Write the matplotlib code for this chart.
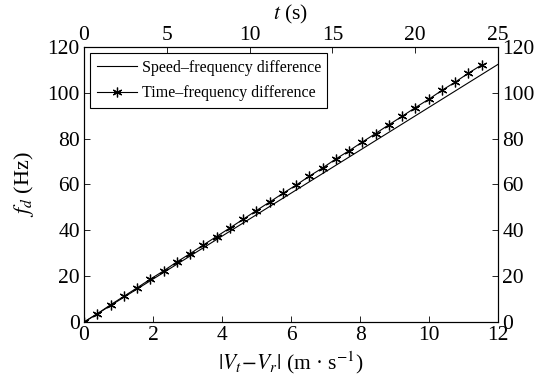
import matplotlib
matplotlib.use("Agg")
import matplotlib.pyplot as plt
import numpy as np

plt.rcParams['font.family'] = ['Liberation Serif', 'DejaVu Serif']
plt.rcParams['mathtext.fontset'] = 'stix'

# Speed-frequency difference (straight line)
speed_v = [0, 12]
speed_fd = [0, 112.4]

# Time-frequency difference, sampled every 0.8 s (t) -> speed
time_t = [0, 0.8, 1.6, 2.4, 3.2, 4.0, 4.8, 5.6, 6.4, 7.2, 8.0, 8.8, 9.6, 10.4, 11.2,
          12.0, 12.8, 13.6, 14.4, 15.2, 16.0, 16.8, 17.6, 18.4, 19.2, 20.0, 20.8,
          21.6, 22.4, 23.2, 24.0]
time_fd = [0, 3.6, 7.5, 11.2, 14.9, 18.7, 22.3, 26.2, 29.8, 33.6, 37.3, 41.0, 44.8,
           48.6, 52.3, 56.1, 59.7, 63.6, 67.2, 71.1, 74.7, 78.5, 82.2, 86.0, 89.7,
           93.5, 97.1, 101.0, 104.6, 108.5, 112.1]
t_max = 25
v_max = 12
time_v = [t * v_max / t_max for t in time_t]

xticks = [0, 2, 4, 6, 8, 10, 12]
yticks = [0, 20, 40, 60, 80, 100, 120]
tticks = [0, 5, 10, 15, 20, 25]

fs = 15.5

fig = plt.figure(figsize=(5.42, 3.78), dpi=100)
ax = fig.add_axes([0.155, 0.148, 0.764, 0.728])

ax.plot(speed_v, speed_fd, color='black', lw=0.8, label='Speed–frequency difference')
ax.plot(time_v, time_fd, color='black', lw=0.8, marker=(6, 2, 0), ms=7, mew=0.9,
        label='Time–frequency difference')

ax.set_xlim(0, 12)
ax.set_ylim(0, 120)
ax.set_xticks(xticks)
ax.set_yticks(yticks)
ax.tick_params(direction='in', labelsize=fs, length=4, width=0.6,
               right=True, labelright=True, pad=3)
for s in ax.spines.values():
    s.set_linewidth(0.8)

ax.set_xlabel(r'$|V_t\!-\!V_r|$ (m · s$^{-1}$)', fontsize=fs, labelpad=3)
ax.set_ylabel(r'$f_d$ (Hz)', fontsize=16, labelpad=8)

ax2 = ax.twiny()
ax2.set_xlim(0, t_max)
ax2.set_xticks(tticks)
ax2.tick_params(direction='in', labelsize=fs, length=4, width=0.6, pad=1)
ax2.set_xlabel(r'$t$ (s)', fontsize=fs, labelpad=5)

leg = ax.legend(loc='upper left', fontsize=11.5, frameon=True, fancybox=False,
                edgecolor='black', framealpha=1, handlelength=2.5,
                borderaxespad=0.4, handletextpad=0.3, labelspacing=0.6)
leg.get_frame().set_linewidth(0.8)

fig.savefig('out.png', dpi=100)
